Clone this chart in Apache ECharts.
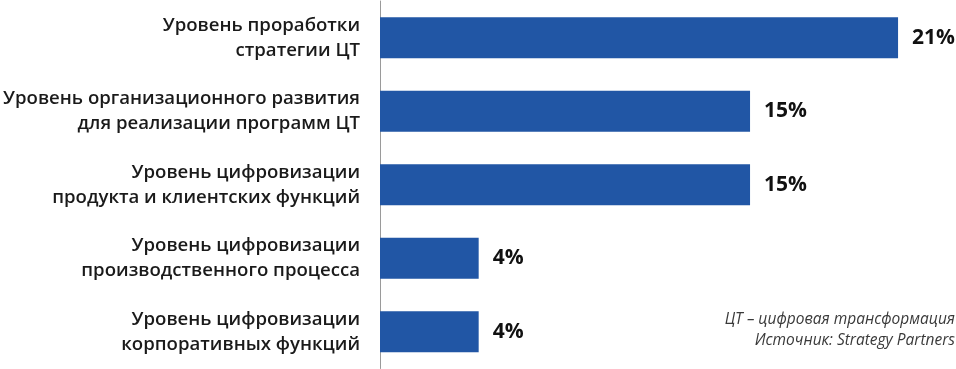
<!DOCTYPE html>
<html>
<head>
<meta charset="utf-8">
<script src="https://cdn.jsdelivr.net/npm/echarts@6/dist/echarts.min.js"></script>
<style>
  html, body { margin: 0; padding: 0; background: #fff; }
  #chart { width: 956px; height: 369px; }
</style>
</head>
<body>
<div id="chart"></div>
<script>
// категории (сверху вниз)
const categories = [
  "Уровень проработки\nстратегии ЦТ",
  "Уровень организационного развития\nдля реализации программ ЦТ",
  "Уровень цифровизации\nпродукта и клиентских функций",
  "Уровень цифровизации\nпроизводственного процесса",
  "Уровень цифровизации\nкорпоративных функций"
];
const values = [21, 15, 15, 4, 4];
const notes = ["ЦТ – цифровая трансформация", "Источник: Strategy Partners"];

const chart = echarts.init(document.getElementById("chart"));

// сноски справа внизу, каждая строка прижата вправо
const noteItems = notes.map((t, i) => ({
  type: "text",
  x: 955,
  y: 312 + i * 21,
  style: {
    text: t,
    align: "right",
    verticalAlign: "top",
    fill: "#3a3a3a",
    font: "italic 15.5px 'Open Sans', sans-serif"
  }
}));

chart.setOption({
  animation: false,
  textStyle: { fontFamily: "'Open Sans', sans-serif" },
  grid: { left: 380, top: 1, width: 567.4, height: 367.5 },
  xAxis: {
    type: "value",
    min: 0,
    max: 23,
    show: false
  },
  yAxis: {
    type: "category",
    data: categories,
    inverse: true,
    axisTick: { show: false },
    axisLine: { show: true, lineStyle: { color: "#9a9a9a", width: 1 } },
    axisLabel: {
      margin: 20,
      color: "#1a1a1a",
      fontSize: 18.6,
      fontWeight: 600,
      lineHeight: 25,
      align: "right"
    }
  },
  series: [{
    type: "bar",
    data: values,
    barCategoryGap: "44%",
    itemStyle: { color: "#2156a5" },
    label: {
      show: true,
      position: "right",
      distance: 14,
      formatter: "{c}%",
      color: "#111",
      fontSize: 21,
      fontWeight: "bold"
    }
  }],
  graphic: noteItems
});
</script>
</body>
</html>
